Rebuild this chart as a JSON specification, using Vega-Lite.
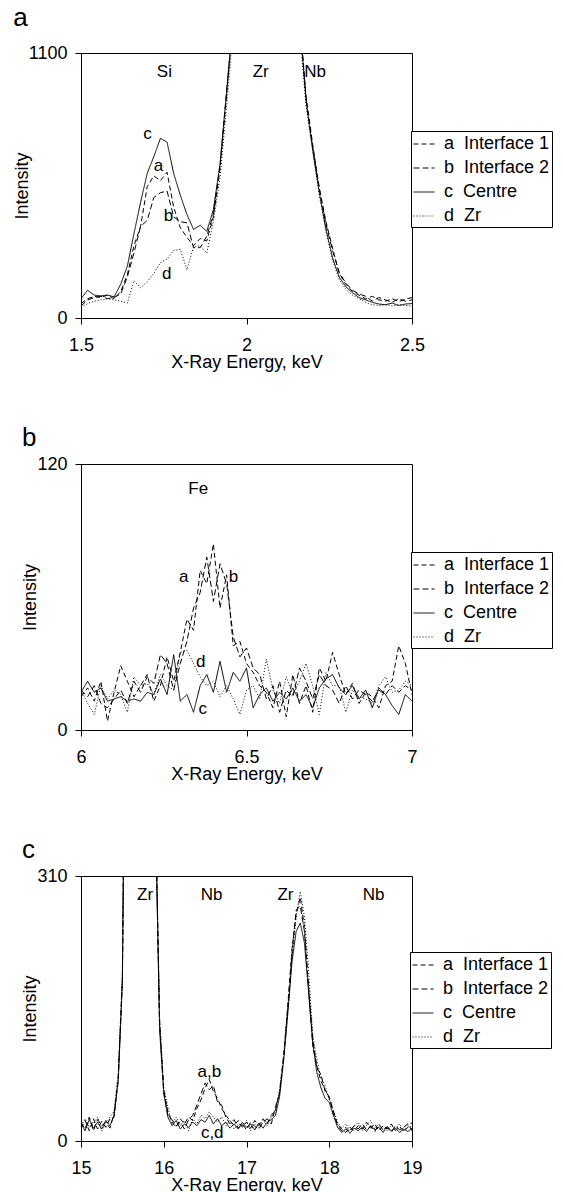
{
  "$schema": "https://vega.github.io/schema/vega-lite/v6.json",
  "padding": {"left": 12, "top": 4, "right": 0, "bottom": 0},
  "spacing": 52,
  "columns": 1,
  "config": {
    "font": "Liberation Sans",
    "view": {"stroke": "black", "strokeWidth": 1},
    "axis": {"grid": false, "domainColor": "black", "tickColor": "black", "labelColor": "black", "titleColor": "black", "labelFontSize": 18, "titleFontSize": 18, "titleFontWeight": "normal", "tickSize": 6, "labelFlush": false, "labelBound": false, "labelOverlap": false},
    "axisX": {"labelPadding": 12, "titlePadding": -1},
    "axisY": {"labelPadding": 8, "titlePadding": -3},
    "legend": {"orient": "none", "symbolType": "stroke", "symbolStrokeColor": "black", "symbolStrokeWidth": 1, "symbolSize": 441, "labelFontSize": 18, "labelColor": "black", "strokeColor": "black", "fillColor": "white", "padding": 2, "rowPadding": 4, "labelOffset": 9, "title": null},
    "title": {"anchor": "start", "frame": "bounds", "fontSize": 26, "fontWeight": "normal", "color": "black", "offset": 8}
  },
  "resolve": {"scale": {"x": "independent", "y": "independent", "strokeDash": "independent"}, "legend": {"strokeDash": "independent"}},
  "datasets": {
    "sa": [
      {"x":1.50,"a":60,"b":50,"c":80,"d":45},
      {"x":1.52,"a":80,"b":75,"c":115,"d":60},
      {"x":1.54,"a":90,"b":85,"c":95,"d":70},
      {"x":1.56,"a":85,"b":90,"c":92,"d":75},
      {"x":1.58,"a":95,"b":80,"c":95,"d":80},
      {"x":1.60,"a":80,"b":85,"c":88,"d":75},
      {"x":1.62,"a":110,"b":100,"c":140,"d":70},
      {"x":1.64,"a":180,"b":170,"c":215,"d":62},
      {"x":1.66,"a":300,"b":270,"c":350,"d":155},
      {"x":1.68,"a":380,"b":380,"c":480,"d":125},
      {"x":1.70,"a":545,"b":405,"c":600,"d":150},
      {"x":1.72,"a":590,"b":500,"c":670,"d":185},
      {"x":1.74,"a":570,"b":520,"c":746,"d":230},
      {"x":1.76,"a":605,"b":527,"c":730,"d":245},
      {"x":1.78,"a":460,"b":420,"c":600,"d":280},
      {"x":1.80,"a":375,"b":400,"c":510,"d":285},
      {"x":1.82,"a":335,"b":395,"c":430,"d":200},
      {"x":1.84,"a":300,"b":292,"c":368,"d":295},
      {"x":1.86,"a":330,"b":292,"c":385,"d":300},
      {"x":1.88,"a":320,"b":340,"c":360,"d":270},
      {"x":1.90,"a":420,"b":430,"c":450,"d":400},
      {"x":1.92,"a":620,"b":630,"c":640,"d":580},
      {"x":1.94,"a":930,"b":940,"c":942,"d":880},
      {"x":1.96,"a":1250,"b":1250,"c":1250,"d":1200},
      {"x":1.98,"a":1800,"b":1800,"c":1800,"d":1800},
      {"x":2.00,"a":2500,"b":2500,"c":2500,"d":2500},
      {"x":2.02,"a":3000,"b":3000,"c":3000,"d":3000},
      {"x":2.04,"a":3000,"b":3000,"c":3000,"d":3000},
      {"x":2.06,"a":3000,"b":3000,"c":3000,"d":3000},
      {"x":2.08,"a":3000,"b":3000,"c":3000,"d":3000},
      {"x":2.10,"a":3000,"b":3000,"c":3000,"d":3000},
      {"x":2.12,"a":3000,"b":3000,"c":3000,"d":3000},
      {"x":2.14,"a":2000,"b":2000,"c":2000,"d":2000},
      {"x":2.16,"a":1250,"b":1250,"c":1250,"d":1200},
      {"x":2.18,"a":920,"b":910,"c":900,"d":880},
      {"x":2.20,"a":720,"b":710,"c":700,"d":690},
      {"x":2.22,"a":540,"b":535,"c":520,"d":510},
      {"x":2.24,"a":400,"b":390,"c":370,"d":360},
      {"x":2.26,"a":290,"b":280,"c":250,"d":240},
      {"x":2.28,"a":185,"b":190,"c":170,"d":160},
      {"x":2.30,"a":140,"b":145,"c":130,"d":120},
      {"x":2.32,"a":110,"b":115,"c":105,"d":95},
      {"x":2.34,"a":95,"b":100,"c":85,"d":80},
      {"x":2.36,"a":80,"b":90,"c":75,"d":65},
      {"x":2.38,"a":90,"b":70,"c":65,"d":55},
      {"x":2.40,"a":75,"b":85,"c":58,"d":52},
      {"x":2.42,"a":70,"b":75,"c":55,"d":55},
      {"x":2.44,"a":80,"b":65,"c":62,"d":50},
      {"x":2.46,"a":68,"b":80,"c":52,"d":55},
      {"x":2.48,"a":78,"b":70,"c":58,"d":52},
      {"x":2.50,"a":85,"b":75,"c":60,"d":50}
    ],
    "ta": [
      {"x":1.752,"y":1021,"t":"Si"},
      {"x":2.043,"y":1021,"t":"Zr"},
      {"x":2.207,"y":1021,"t":"Nb"},
      {"x":1.701,"y":765,"t":"c"},
      {"x":1.734,"y":630,"t":"a"},
      {"x":1.764,"y":423,"t":"b"},
      {"x":1.759,"y":181,"t":"d"}
    ],
    "sb": [
      {"x":6.00,"a":15,"b":18,"c":17,"d":18},
      {"x":6.02,"a":19,"b":15,"c":22,"d":12},
      {"x":6.04,"a":13,"b":20,"c":17,"d":7},
      {"x":6.06,"a":22,"b":12,"c":19,"d":20},
      {"x":6.08,"a":4,"b":10,"c":13,"d":14},
      {"x":6.10,"a":17,"b":14,"c":14,"d":18},
      {"x":6.12,"a":29,"b":18,"c":15,"d":16},
      {"x":6.14,"a":22,"b":12,"c":13,"d":8},
      {"x":6.16,"a":15,"b":22,"c":14,"d":24},
      {"x":6.18,"a":20,"b":17,"c":13,"d":20},
      {"x":6.20,"a":25,"b":24,"c":17,"d":21},
      {"x":6.22,"a":13,"b":21,"c":16,"d":16},
      {"x":6.24,"a":20,"b":34,"c":23,"d":25},
      {"x":6.26,"a":33,"b":30,"c":16,"d":20},
      {"x":6.28,"a":22,"b":18,"c":34,"d":18},
      {"x":6.30,"a":35,"b":30,"c":13,"d":35},
      {"x":6.32,"a":50,"b":40,"c":16,"d":36},
      {"x":6.34,"a":45,"b":55,"c":8,"d":30},
      {"x":6.36,"a":72,"b":62,"c":20,"d":24},
      {"x":6.38,"a":66,"b":78,"c":25,"d":20},
      {"x":6.40,"a":84,"b":58,"c":17,"d":22},
      {"x":6.42,"a":55,"b":75,"c":31,"d":15},
      {"x":6.44,"a":70,"b":66,"c":17,"d":20},
      {"x":6.46,"a":38,"b":42,"c":26,"d":14},
      {"x":6.48,"a":40,"b":33,"c":22,"d":7},
      {"x":6.50,"a":30,"b":37,"c":28,"d":18},
      {"x":6.52,"a":26,"b":28,"c":10,"d":20},
      {"x":6.54,"a":20,"b":25,"c":16,"d":14},
      {"x":6.56,"a":17,"b":14,"c":19,"d":32},
      {"x":6.58,"a":10,"b":20,"c":13,"d":18},
      {"x":6.60,"a":22,"b":8,"c":17,"d":12},
      {"x":6.62,"a":6,"b":18,"c":14,"d":24},
      {"x":6.64,"a":25,"b":15,"c":19,"d":16},
      {"x":6.66,"a":12,"b":28,"c":13,"d":22},
      {"x":6.68,"a":20,"b":22,"c":16,"d":30},
      {"x":6.70,"a":8,"b":14,"c":10,"d":20},
      {"x":6.72,"a":28,"b":25,"c":19,"d":7},
      {"x":6.74,"a":22,"b":20,"c":23,"d":26},
      {"x":6.76,"a":35,"b":18,"c":25,"d":20},
      {"x":6.78,"a":25,"b":12,"c":19,"d":20},
      {"x":6.80,"a":16,"b":20,"c":16,"d":8},
      {"x":6.82,"a":21,"b":14,"c":20,"d":18},
      {"x":6.84,"a":12,"b":18,"c":14,"d":15},
      {"x":6.86,"a":17,"b":16,"c":18,"d":14},
      {"x":6.88,"a":15,"b":13,"c":10,"d":12},
      {"x":6.90,"a":10,"b":18,"c":19,"d":20},
      {"x":6.92,"a":20,"b":16,"c":16,"d":24},
      {"x":6.94,"a":22,"b":20,"c":11,"d":17},
      {"x":6.96,"a":38,"b":17,"c":7,"d":18},
      {"x":6.98,"a":30,"b":20,"c":16,"d":22},
      {"x":7.00,"a":16,"b":18,"c":13,"d":20}
    ],
    "tb": [
      {"x":6.354,"y":108.5,"t":"Fe"},
      {"x":6.31,"y":69,"t":"a"},
      {"x":6.461,"y":69,"t":"b"},
      {"x":6.362,"y":30.7,"t":"d"},
      {"x":6.368,"y":9.6,"t":"c"}
    ],
    "sc": [
      {"x":15.00,"a":15,"b":22,"c":20,"d":18},
      {"x":15.05,"a":24,"b":14,"c":12,"d":26},
      {"x":15.10,"a":12,"b":28,"c":25,"d":16},
      {"x":15.15,"a":26,"b":12,"c":15,"d":20},
      {"x":15.20,"a":14,"b":25,"c":22,"d":28},
      {"x":15.25,"a":23,"b":18,"c":14,"d":12},
      {"x":15.30,"a":16,"b":22,"c":24,"d":20},
      {"x":15.35,"a":26,"b":15,"c":18,"d":28},
      {"x":15.40,"a":28,"b":32,"c":30,"d":35},
      {"x":15.45,"a":75,"b":72,"c":70,"d":80},
      {"x":15.50,"a":190,"b":188,"c":185,"d":195},
      {"x":15.55,"a":720,"b":710,"c":700,"d":720},
      {"x":15.60,"a":1500,"b":1500,"c":1500,"d":1500},
      {"x":15.65,"a":2000,"b":2000,"c":2000,"d":2000},
      {"x":15.70,"a":2000,"b":2000,"c":2000,"d":2000},
      {"x":15.75,"a":2000,"b":2000,"c":2000,"d":2000},
      {"x":15.80,"a":2000,"b":2000,"c":2000,"d":2000},
      {"x":15.85,"a":1500,"b":1500,"c":1500,"d":1500},
      {"x":15.90,"a":390,"b":385,"c":380,"d":395},
      {"x":15.95,"a":140,"b":135,"c":130,"d":145},
      {"x":16.00,"a":60,"b":58,"c":55,"d":62},
      {"x":16.05,"a":34,"b":30,"c":28,"d":40},
      {"x":16.10,"a":22,"b":25,"c":18,"d":20},
      {"x":16.15,"a":16,"b":18,"c":24,"d":28},
      {"x":16.20,"a":26,"b":22,"c":14,"d":18},
      {"x":16.25,"a":20,"b":14,"c":20,"d":24},
      {"x":16.30,"a":28,"b":25,"c":16,"d":12},
      {"x":16.35,"a":24,"b":30,"c":22,"d":26},
      {"x":16.40,"a":38,"b":42,"c":18,"d":20},
      {"x":16.45,"a":48,"b":55,"c":25,"d":30},
      {"x":16.50,"a":62,"b":68,"c":22,"d":26},
      {"x":16.55,"a":72,"b":60,"c":30,"d":34},
      {"x":16.60,"a":58,"b":65,"c":20,"d":28},
      {"x":16.65,"a":50,"b":45,"c":26,"d":22},
      {"x":16.70,"a":38,"b":42,"c":18,"d":28},
      {"x":16.75,"a":30,"b":28,"c":22,"d":18},
      {"x":16.80,"a":24,"b":20,"c":15,"d":24},
      {"x":16.85,"a":18,"b":25,"c":20,"d":14},
      {"x":16.90,"a":24,"b":15,"c":14,"d":20},
      {"x":16.95,"a":16,"b":20,"c":22,"d":18},
      {"x":17.00,"a":22,"b":13,"c":16,"d":24},
      {"x":17.05,"a":15,"b":22,"c":20,"d":12},
      {"x":17.10,"a":24,"b":17,"c":13,"d":20},
      {"x":17.15,"a":18,"b":14,"c":21,"d":16},
      {"x":17.20,"a":26,"b":22,"c":15,"d":24},
      {"x":17.25,"a":20,"b":26,"c":22,"d":18},
      {"x":17.30,"a":30,"b":20,"c":25,"d":28},
      {"x":17.35,"a":36,"b":40,"c":30,"d":34},
      {"x":17.40,"a":58,"b":55,"c":52,"d":60},
      {"x":17.45,"a":100,"b":98,"c":95,"d":102},
      {"x":17.50,"a":160,"b":155,"c":150,"d":158},
      {"x":17.55,"a":225,"b":220,"c":210,"d":215},
      {"x":17.60,"a":265,"b":270,"c":245,"d":262},
      {"x":17.65,"a":285,"b":275,"c":255,"d":292},
      {"x":17.70,"a":250,"b":245,"c":232,"d":262},
      {"x":17.75,"a":180,"b":178,"c":175,"d":200},
      {"x":17.80,"a":112,"b":120,"c":115,"d":125},
      {"x":17.85,"a":88,"b":85,"c":80,"d":95},
      {"x":17.90,"a":70,"b":78,"c":62,"d":74},
      {"x":17.95,"a":60,"b":58,"c":50,"d":65},
      {"x":18.00,"a":50,"b":52,"c":45,"d":48},
      {"x":18.05,"a":32,"b":35,"c":30,"d":36},
      {"x":18.10,"a":20,"b":18,"c":16,"d":22},
      {"x":18.15,"a":14,"b":12,"c":10,"d":15},
      {"x":18.20,"a":10,"b":16,"c":14,"d":20},
      {"x":18.25,"a":16,"b":11,"c":9,"d":13},
      {"x":18.30,"a":12,"b":18,"c":15,"d":17},
      {"x":18.35,"a":18,"b":14,"c":12,"d":22},
      {"x":18.40,"a":14,"b":20,"c":16,"d":12},
      {"x":18.45,"a":22,"b":13,"c":11,"d":18},
      {"x":18.50,"a":15,"b":17,"c":18,"d":24},
      {"x":18.55,"a":20,"b":11,"c":13,"d":14},
      {"x":18.60,"a":12,"b":19,"c":16,"d":20},
      {"x":18.65,"a":18,"b":13,"c":10,"d":16},
      {"x":18.70,"a":14,"b":16,"c":17,"d":12},
      {"x":18.75,"a":20,"b":10,"c":12,"d":18},
      {"x":18.80,"a":12,"b":18,"c":15,"d":14},
      {"x":18.85,"a":17,"b":13,"c":10,"d":20},
      {"x":18.90,"a":11,"b":16,"c":14,"d":12},
      {"x":18.95,"a":16,"b":20,"c":11,"d":18},
      {"x":19.00,"a":22,"b":12,"c":15,"d":16}
    ],
    "tc": [
      {"x":15.775,"y":288,"t":"Zr"},
      {"x":16.578,"y":288,"t":"Nb"},
      {"x":17.47,"y":288,"t":"Zr"},
      {"x":18.535,"y":288,"t":"Nb"},
      {"x":16.55,"y":81,"t":"a,b"},
      {"x":16.586,"y":9,"t":"c,d"}
    ]
  },
  "concat": [
    {
      "width": 331, "height": 265,
      "title": {"text": "a", "offset": 13},
      "layer": [
        {
          "data": {"name": "sa"},
          "transform": [{"fold": ["a", "b", "c", "d"], "as": ["s", "v"]}],
          "mark": {"type": "line", "clip": true, "color": "black", "strokeWidth": 1},
          "encoding": {
            "x": {"field": "x", "type": "quantitative", "scale": {"domain": [1.5, 2.5], "nice": false, "zero": false}, "axis": {"values": [1.5, 2, 2.5], "labelExpr": "'' + datum.value", "title": "X-Ray Energy, keV"}},
            "y": {"field": "v", "type": "quantitative", "scale": {"domain": [0, 1100], "nice": false}, "axis": {"values": [0, 1100], "labelExpr": "'' + datum.value", "title": "Intensity"}},
            "strokeDash": {"field": "s", "type": "nominal", "scale": {"domain": ["a", "b", "c", "d"], "range": [[5, 3], [6, 3], [1, 0], [1, 2]]}, "legend": {"legendX": 330, "legendY": 78, "labelExpr": "datum.label == 'a' ? 'a\u00a0\u00a0Interface 1' : datum.label == 'b' ? 'b\u00a0\u00a0Interface 2' : datum.label == 'c' ? 'c\u00a0\u00a0Centre' : 'd\u00a0\u00a0Zr'"}}
          }
        },
        {
          "data": {"name": "ta"},
          "mark": {"type": "text", "fontSize": 17, "color": "black"},
          "encoding": {
            "x": {"field": "x", "type": "quantitative"},
            "y": {"field": "y", "type": "quantitative"},
            "text": {"field": "t"}
          }
        }
      ]
    },
    {
      "width": 331, "height": 266,
      "title": {"text": "b", "offset": 4},
      "layer": [
        {
          "data": {"name": "sb"},
          "transform": [{"fold": ["a", "b", "c", "d"], "as": ["s", "v"]}],
          "mark": {"type": "line", "clip": true, "color": "black", "strokeWidth": 1},
          "encoding": {
            "x": {"field": "x", "type": "quantitative", "scale": {"domain": [6, 7], "nice": false, "zero": false}, "axis": {"values": [6, 6.5, 7], "labelExpr": "'' + datum.value", "title": "X-Ray Energy, keV"}},
            "y": {"field": "v", "type": "quantitative", "scale": {"domain": [0, 120], "nice": false}, "axis": {"values": [0, 120], "labelExpr": "'' + datum.value", "title": "Intensity"}},
            "strokeDash": {"field": "s", "type": "nominal", "scale": {"domain": ["a", "b", "c", "d"], "range": [[5, 3], [6, 3], [1, 0], [1, 2]]}, "legend": {"legendX": 330, "legendY": 88, "labelExpr": "datum.label == 'a' ? 'a\u00a0\u00a0Interface 1' : datum.label == 'b' ? 'b\u00a0\u00a0Interface 2' : datum.label == 'c' ? 'c\u00a0\u00a0Centre' : 'd\u00a0\u00a0Zr'"}}
          }
        },
        {
          "data": {"name": "tb"},
          "mark": {"type": "text", "fontSize": 17, "color": "black"},
          "encoding": {
            "x": {"field": "x", "type": "quantitative"},
            "y": {"field": "y", "type": "quantitative"},
            "text": {"field": "t"}
          }
        }
      ]
    },
    {
      "width": 331, "height": 265,
      "title": {"text": "c", "offset": 4},
      "layer": [
        {
          "data": {"name": "sc"},
          "transform": [{"fold": ["a", "b", "c", "d"], "as": ["s", "v"]}],
          "mark": {"type": "line", "clip": true, "color": "black", "strokeWidth": 1},
          "encoding": {
            "x": {"field": "x", "type": "quantitative", "scale": {"domain": [15, 19], "nice": false, "zero": false}, "axis": {"values": [15, 16, 17, 18, 19], "labelExpr": "'' + datum.value", "title": "X-Ray Energy, keV"}},
            "y": {"field": "v", "type": "quantitative", "scale": {"domain": [0, 310], "nice": false}, "axis": {"values": [0, 310], "labelExpr": "'' + datum.value", "title": "Intensity"}},
            "strokeDash": {"field": "s", "type": "nominal", "scale": {"domain": ["a", "b", "c", "d"], "range": [[5, 3], [6, 3], [1, 0], [1, 2]]}, "legend": {"legendX": 329, "legendY": 76, "labelExpr": "datum.label == 'a' ? 'a\u00a0\u00a0Interface 1' : datum.label == 'b' ? 'b\u00a0\u00a0Interface 2' : datum.label == 'c' ? 'c\u00a0\u00a0Centre' : 'd\u00a0\u00a0Zr'"}}
          }
        },
        {
          "data": {"name": "tc"},
          "mark": {"type": "text", "fontSize": 17, "color": "black"},
          "encoding": {
            "x": {"field": "x", "type": "quantitative"},
            "y": {"field": "y", "type": "quantitative"},
            "text": {"field": "t"}
          }
        }
      ]
    }
  ]
}
